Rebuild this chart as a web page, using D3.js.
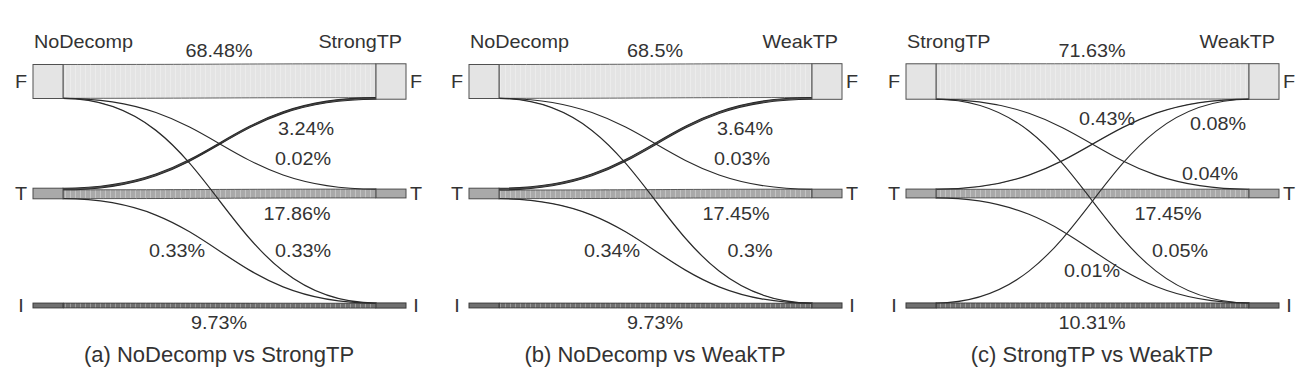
<!DOCTYPE html>
<html><head><meta charset="utf-8">
<script src="https://cdn.jsdelivr.net/npm/d3@7"></script>
<style>body{margin:0;background:#fff}svg{display:block}</style>
</head><body><svg id="c" width="1312" height="382"></svg>
<script>
// ---- data ----
const states = ["F", "T", "I"];
const leftNames = ["NoDecomp", "NoDecomp", "StrongTP"];
const rightNames = ["StrongTP", "WeakTP", "WeakTP"];
const captions = ["(a) NoDecomp vs StrongTP", "(b) NoDecomp vs WeakTP", "(c) StrongTP vs WeakTP"];
// [source, target, percent]
const flowsA = [["F","F",68.48],["T","F",3.24],["F","T",0.02],["T","T",17.86],["F","I",0.33],["T","I",0.33],["I","I",9.73]];
const flowsB = [["F","F",68.5],["T","F",3.64],["F","T",0.03],["T","T",17.45],["F","I",0.3],["T","I",0.34],["I","I",9.73]];
const flowsC = [["F","F",71.63],["T","F",0.43],["I","F",0.08],["F","T",0.04],["T","T",17.45],["F","I",0.05],["T","I",0.01],["I","I",10.31]];
const panelFlows = [flowsA, flowsB, flowsC];

// ---- layout (positions, not data) ----
const panelX = [33, 469, 906];
const nodeW = 30, spanW = 373;
// label anchor [dx from panel origin, baseline y], same order as the flows
const labelPos = [
  [[186,57],[273,135],[270,165],[264,220],[270,257],[144,257],[186,329]],
  [[186,57],[276,135],[273,165],[267,220],[281,257],[143,257],[186,329]],
  [[186,57],[201,125],[312,130],[304,180],[262,220],[274,257],[186,277],[186,329]]
];
const fillOf = {F:"#e4e4e4", T:"#a9a9a9", I:"#707070"};
const strokeOf = {F:"#505050", T:"#4a4a4a", I:"#3a3a3a"};
const textCol = "#333";
const FONT = "'Liberation Sans', Arial, Helvetica, sans-serif";
const SX = 1.1;

const svg = d3.select("#c");
const defs = svg.append("defs");
const pat = defs.append("pattern").attr("id","stripes").attr("patternUnits","userSpaceOnUse")
  .attr("width",5).attr("height",10);
pat.append("rect").attr("x",0).attr("y",0).attr("width",1).attr("height",10).attr("fill","#fff").attr("opacity",0.3);

const yPos = d3.scalePoint().domain(states).range([81.5, 305.5]);
const hScale = d3.scaleLinear().domain([0, 100]).range([0, 49.4]);

function ribbon(x0, y0a, y0b, x1, y1a, y1b) {
  const xm = (x0 + x1) / 2;
  const p = d3.path();
  p.moveTo(x0, y0a);
  p.bezierCurveTo(xm, y0a, xm, y1a, x1, y1a);
  p.lineTo(x1, y1b);
  p.bezierCurveTo(xm, y1b, xm, y0b, x0, y0b);
  p.closePath();
  return p.toString();
}

function txt(g, x, y, s, size, anchor, sx) {
  g.append("text")
    .attr("transform", `translate(${x},${y}) scale(${sx},1)`)
    .attr("text-anchor", anchor)
    .attr("font-family", FONT).attr("font-size", size)
    .attr("fill", textCol).text(s);
}

panelFlows.forEach((flows, pi) => {
  const ox = panelX[pi];
  const g = svg.append("g");
  const xL = ox, xLi = ox + nodeW, xRi = ox + spanW - nodeW, xR = ox + spanW;
  const idx = s => states.indexOf(s);

  const outTot = {}, inTot = {};
  states.forEach(s => {
    outTot[s] = d3.sum(flows.filter(f => f[0] === s), f => f[2]);
    inTot[s] = d3.sum(flows.filter(f => f[1] === s), f => f[2]);
  });
  const topL = s => yPos(s) - hScale(outTot[s]) / 2;
  const topR = s => yPos(s) - hScale(inTot[s]) / 2;

  const links = flows.map((f, i) => ({s: f[0], t: f[1], v: f[2], i}));
  states.forEach(s => {
    let y = topL(s);
    links.filter(l => l.s === s).sort((a, b) => idx(a.t) - idx(b.t)).forEach(l => {
      l.y0 = y; y += hScale(l.v); l.y0b = y;
    });
    let y2 = topR(s);
    links.filter(l => l.t === s).sort((a, b) => idx(a.s) - idx(b.s)).forEach(l => {
      l.y1 = y2; y2 += hScale(l.v); l.y1b = y2;
    });
  });

  links.filter(l => l.s === l.t).forEach(l => {
    const d = ribbon(xLi, l.y0, l.y0b, xRi, l.y1, l.y1b);
    g.append("path").attr("d", d).attr("fill", fillOf[l.s]).attr("stroke", "none");
    g.append("path").attr("d", d).attr("fill", "url(#stripes)").attr("stroke", strokeOf[l.s]).attr("stroke-width", 0.9);
  });
  links.filter(l => l.s !== l.t).forEach(l => {
    g.append("path").attr("d", ribbon(xLi, l.y0, l.y0b, xRi, l.y1, l.y1b))
      .attr("fill", "#555").attr("stroke", "#2a2a2a").attr("stroke-width", 1.1);
  });
  states.forEach(s => {
    g.append("rect").attr("x", xL).attr("y", topL(s)).attr("width", nodeW).attr("height", hScale(outTot[s]))
      .attr("fill", fillOf[s]).attr("stroke", strokeOf[s]).attr("stroke-width", 1);
    g.append("rect").attr("x", xRi).attr("y", topR(s)).attr("width", nodeW).attr("height", hScale(inTot[s]))
      .attr("fill", fillOf[s]).attr("stroke", strokeOf[s]).attr("stroke-width", 1);
    txt(g, xL - 12, yPos(s) + 6.5, s, 18, "middle", SX);
    txt(g, xR + 10, yPos(s) + 6.5, s, 18, "middle", SX);
  });
  txt(g, xL + 1, 48, leftNames[pi], 18, "start", SX);
  txt(g, xR - 4, 48, rightNames[pi], 18, "end", SX);
  links.forEach(l => {
    const [dx, by] = labelPos[pi][l.i];
    txt(g, ox + dx, by, l.v + "%", 18, "middle", SX);
  });
  txt(g, ox + 186, 362, captions[pi], 22, "middle", 1);
});
</script>
</body></html>
